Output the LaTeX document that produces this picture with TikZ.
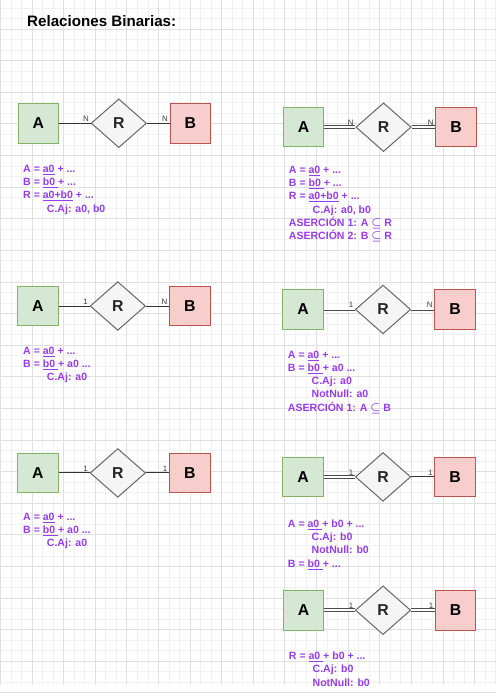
\documentclass[tikz,border=0pt]{standalone}
\usepackage{fontspec}
\setmainfont{Liberation Sans}
\usetikzlibrary{shapes.geometric}
\definecolor{verdefondo}{HTML}{D5E8D4}
\definecolor{verdeborde}{HTML}{82B366}
\definecolor{rojofondo}{HTML}{F8CECC}
\definecolor{rojoborde}{HTML}{B85450}
\definecolor{grisfondo}{HTML}{F5F5F5}
\definecolor{grisborde}{HTML}{666666}
\definecolor{morado}{RGB}{150,60,235}
\definecolor{rejillafina}{HTML}{F1F1F1}
\definecolor{rejillagruesa}{HTML}{E0E0E0}
\tikzset{
  entA/.style={draw=verdeborde, fill=verdefondo, line width=0.75pt, minimum width=30.75pt,
    minimum height=30pt, inner sep=0pt, font=\fontsize{12}{13}\selectfont\bfseries},
  entB/.style={entA, draw=rojoborde, fill=rojofondo},
  rel/.style={diamond, draw=grisborde, fill=grisfondo, line width=0.75pt, minimum width=42pt,
    minimum height=37pt, inner sep=0pt, font=\fontsize{12}{13}\selectfont\bfseries, text=black!85},
  enlace/.style={draw=black!80, line width=0.75pt},
  enlacedoble/.style={draw=black!70, line width=0.6pt, double=white, double distance=1.5pt},
  card/.style={font=\fontsize{6}{7}\selectfont, text=black!75, anchor=south east, inner sep=1pt},
  attr/.style={anchor=north west, align=left, inner sep=0pt, text=morado,
    font=\fontsize{8}{10.1}\selectfont\bfseries},
  titulo/.style={font=\fontsize{11.5}{13}\selectfont\bfseries, inner sep=0pt, anchor=base west}
}
\newcommand{\sangria}{\hspace*{18pt}}
\newcommand{\incl}{$\boldsymbol{\subseteq}$}
\usepackage{amsmath,amssymb,bm}
\begin{document}
\begin{tikzpicture}[x=0.75pt, y=-0.75pt]
% fondo y rejilla
\fill[white] (0,0) rectangle (502,693);
\foreach \i in {0,...,47} {
  \draw[rejillafina, line width=0.4pt] ({\i*32/3},0) -- ({\i*32/3},693);
}
\foreach \i in {0,...,65} {
  \draw[rejillafina, line width=0.4pt] (0,{7.67+\i*32/3}) -- (502,{7.67+\i*32/3});
}
\foreach \i in {0,...,15} {
  \draw[rejillagruesa, line width=0.4pt] ({\i*32},0) -- ({\i*32},693);
}
\foreach \i in {0,...,21} {
  \draw[rejillagruesa, line width=0.4pt] (0,{29+\i*32}) -- (502,{29+\i*32});
}
\useasboundingbox (0,0) rectangle (502,693);

\node[titulo] (tit) at (27,27) {Relaciones Binarias:};

% N:N
\node[entA] (a1) at (38.5,124.5) {A};
\node[rel]  (r1) at (120,124.5) {R};
\node[entB] (b1) at (192.5,124.5) {B};
\draw[enlace] (a1) -- (r1) node[card, at end] {N};
\draw[enlace] (r1) -- (b1) node[card, at end] {N};
\node[attr] (t1) at (23,166.5) {A = \underline{a0} + ...\\
B = \underline{b0\ }+ ...\\
R = \underline{a0+b0} + ...\\
\sangria C.Aj: a0, b0};

% N:N total
\node[entA] (a2) at (307,128.5) {A};
\node[rel]  (r2) at (388,128.5) {R};
\node[entB] (b2) at (461.5,128.5) {B};
\draw[enlacedoble] (a2) -- (r2) node[card, at end] {N};
\draw[enlacedoble] (r2) -- (b2) node[card, at end] {N};
\node[attr] (t2) at (292,167.5) {A = \underline{a0} + ...\\
B = \underline{b0\ }+ ...\\
R = \underline{a0+b0} + ...\\
\sangria C.Aj: a0, b0\\
ASERCIÓN 1: A \incl{} R\\
ASERCIÓN 2: B \incl{} R};

% 1:N
\node[entA] (a3) at (38,309.5) {A};
\node[rel]  (r3) at (119,309.5) {R};
\node[entB] (b3) at (192,309.5) {B};
\draw[enlace] (a3) -- (r3) node[card, at end] {1};
\draw[enlace] (r3) -- (b3) node[card, at end] {N};
\node[attr] (t3) at (23,350.5) {A = \underline{a0} + ...\\
B = \underline{b0\ }+ a0 ...\\
\sangria C.Aj: a0};

% 1:N total
\node[entA] (a4) at (306.5,313) {A};
\node[rel]  (r4) at (387.5,313) {R};
\node[entB] (b4) at (460.5,313) {B};
\draw[enlacedoble] (a4) -- (r4) node[card, at end] {1};
\draw[enlacedoble] (r4) -- (b4) node[card, at end] {N};
\node[attr] (t4) at (291,354.5) {A = \underline{a0} + ...\\
B = \underline{b0\ }+ a0 ...\\
\sangria C.Aj: a0\\
\sangria NotNull: a0\\
ASERCIÓN 1: A \incl{} B};

% 1:1
\node[entA] (a5) at (38,478.5) {A};
\node[rel]  (r5) at (119,478.5) {R};
\node[entB] (b5) at (192,478.5) {B};
\draw[enlace] (a5) -- (r5) node[card, at end] {1};
\draw[enlace] (r5) -- (b5) node[card, at end] {1};
\node[attr] (t5) at (23,518.5) {A = \underline{a0} + ...\\
B = \underline{b0\ }+ a0 ...\\
\sangria C.Aj: a0};

% 1:1 parcial
\node[entA] (a6) at (306.5,482.5) {A};
\node[rel]  (r6) at (387.5,482.5) {R};
\node[entB] (b6) at (460.5,482.5) {B};
\draw[enlacedoble] (a6) -- (r6) node[card, at end] {1};
\draw[enlace] (r6) -- (b6) node[card, at end] {1};
\node[attr] (t6) at (291,525.5) {A = \underline{a0\ }+ b0 + ...\\
\sangria C.Aj: b0\\
\sangria NotNull: b0\\
B = \underline{b0\ }+ ...};

% 1:1 total
\node[entA] (a7) at (307,617.5) {A};
\node[rel]  (r7) at (387.5,617.5) {R};
\node[entB] (b7) at (461,617.5) {B};
\draw[enlacedoble] (a7) -- (r7) node[card, at end] {1};
\draw[enlacedoble] (r7) -- (b7) node[card, at end] {1};
\node[attr] (t7) at (292,659.5) {R = \underline{a0\ }+ b0 + ...\\
\sangria C.Aj: b0\\
\sangria NotNull: b0};
\end{tikzpicture}
\end{document}
